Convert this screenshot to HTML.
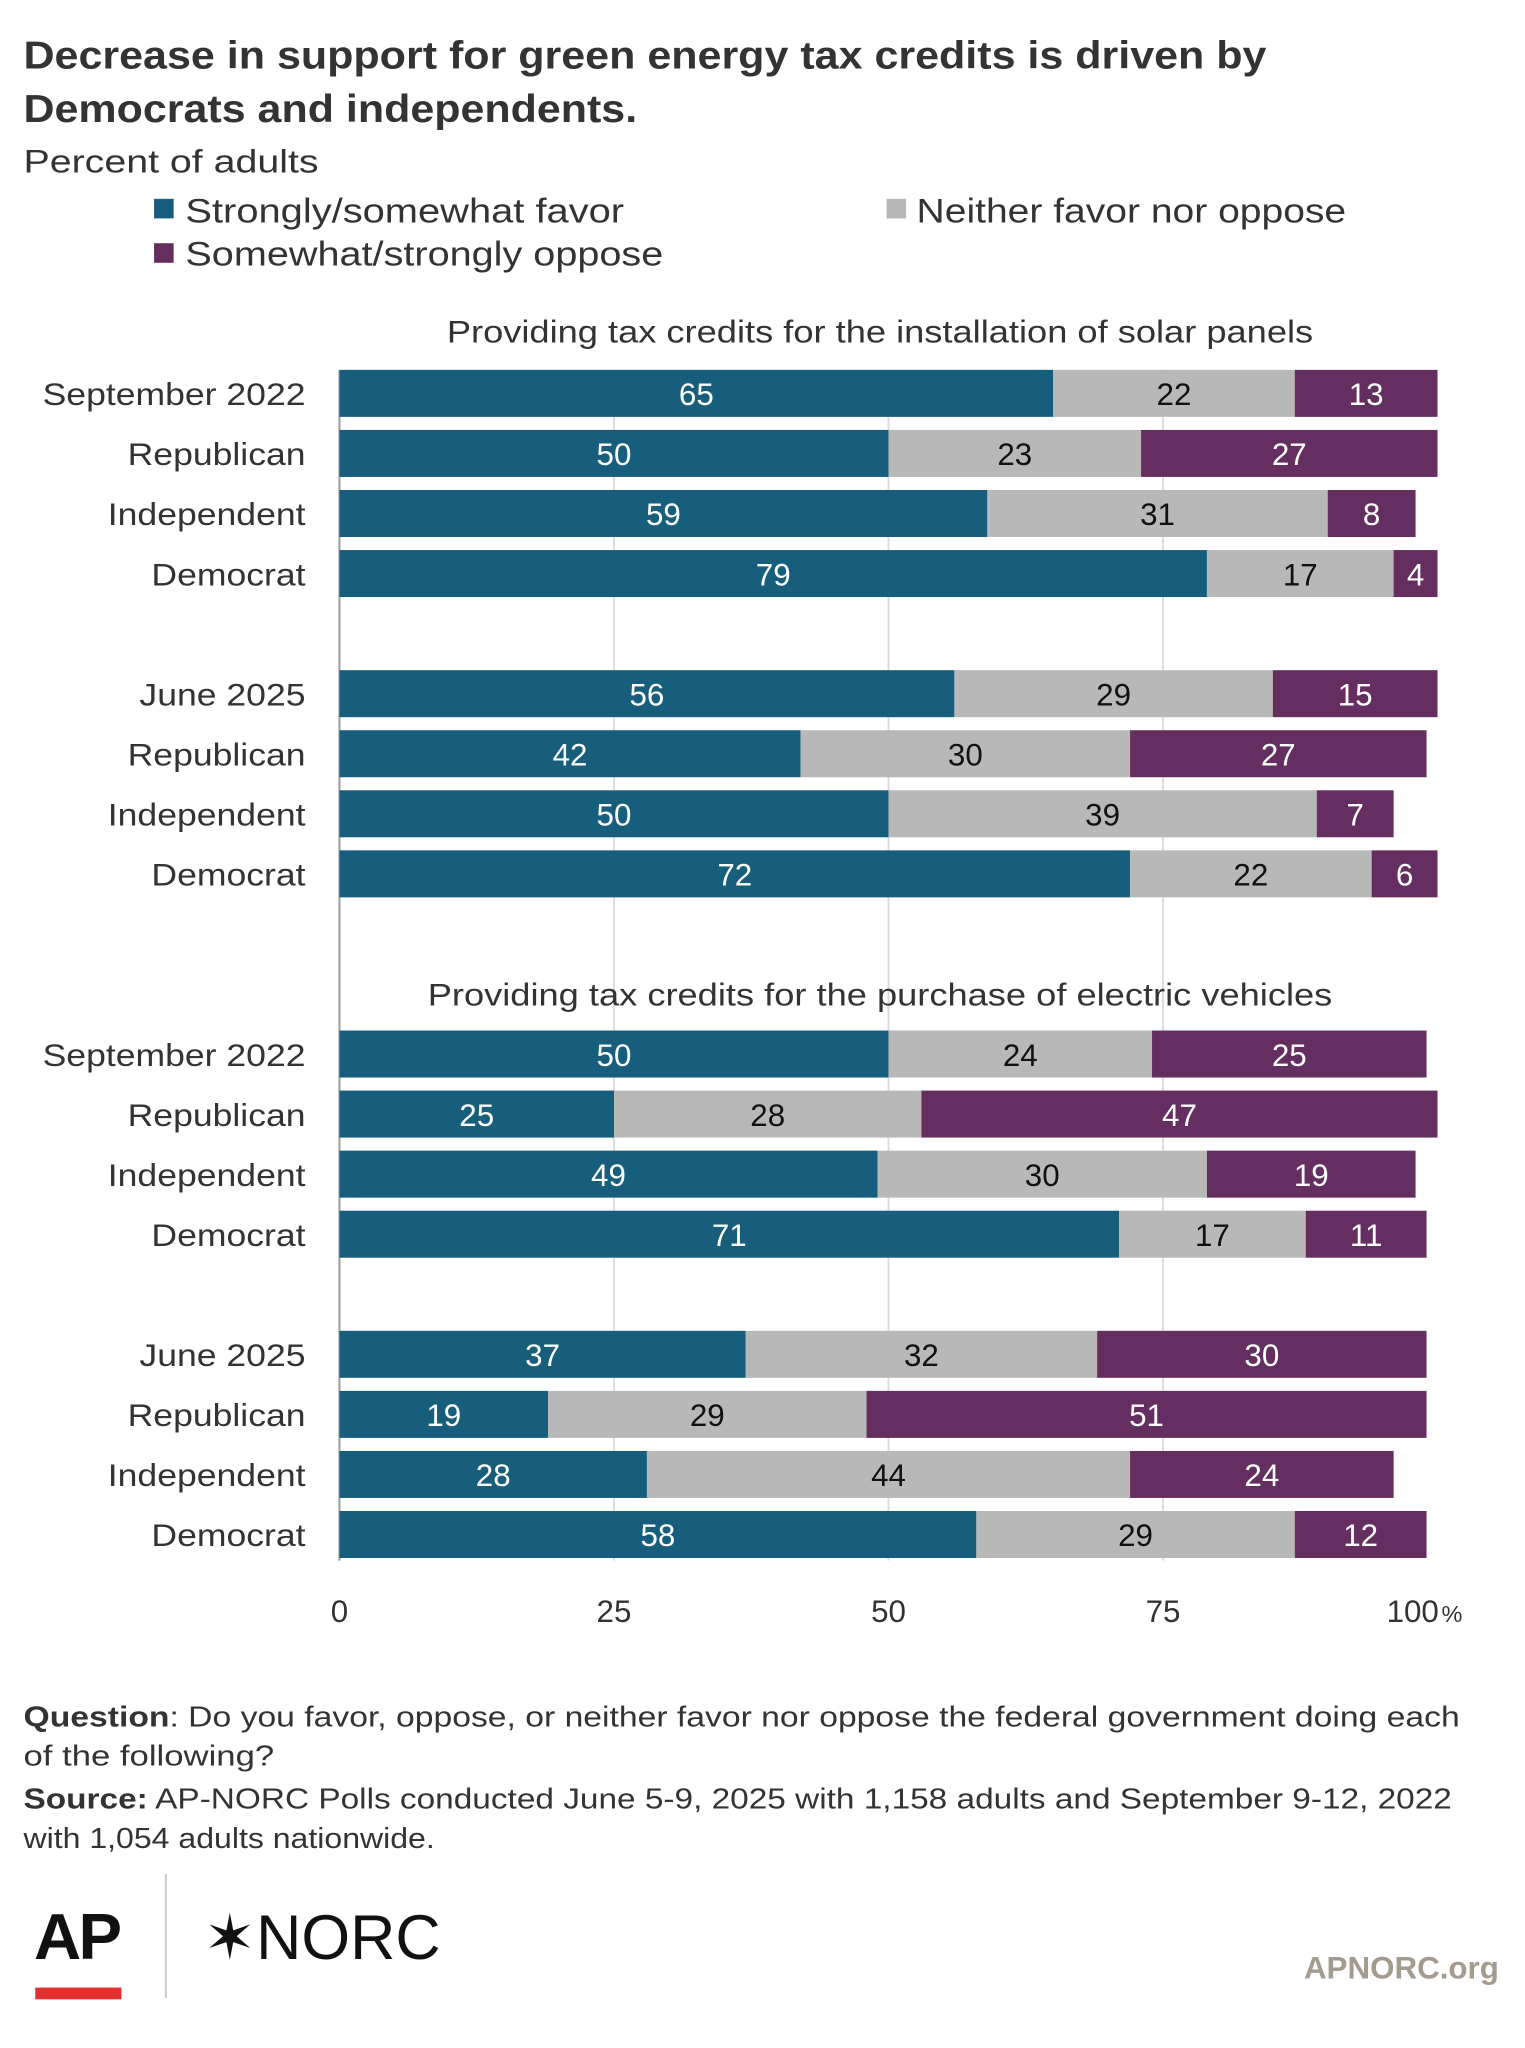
<!DOCTYPE html>
<html><head><meta charset="utf-8"><style>
html,body{margin:0;padding:0;background:#fff;}
svg{display:block;font-family:"Liberation Sans",Arial,sans-serif;}
</style></head><body>
<svg id="chart" width="1525" height="2048" viewBox="0 0 1168 1568" xmlns="http://www.w3.org/2000/svg">
<text x="18" y="52" font-size="30" font-weight="bold" fill="#333" textLength="952" lengthAdjust="spacingAndGlyphs">Decrease in support for green energy tax credits is driven by</text>
<text x="18" y="93" font-size="30" font-weight="bold" fill="#333" textLength="470" lengthAdjust="spacingAndGlyphs">Democrats and independents.</text>
<text x="18" y="132" font-size="25" fill="#333" textLength="226" lengthAdjust="spacingAndGlyphs">Percent of adults</text>
<g font-size="26" fill="#333">
<rect x="118" y="152" width="15" height="15" fill="#175e7d"/>
<text x="142" y="170" textLength="336" lengthAdjust="spacingAndGlyphs">Strongly/somewhat favor</text>
<rect x="679" y="152" width="15" height="15" fill="#b8b8b8"/>
<text x="702" y="170" textLength="329" lengthAdjust="spacingAndGlyphs">Neither favor nor oppose</text>
<rect x="118" y="186" width="15" height="15" fill="#642e60"/>
<text x="142" y="203" textLength="366" lengthAdjust="spacingAndGlyphs">Somewhat/strongly oppose</text>
</g>
<g id="grid"></g>
<g id="bars"></g>
<g id="axis"></g>
<g font-size="22" fill="#333">
<text x="18" y="1322" textLength="1100" lengthAdjust="spacingAndGlyphs"><tspan font-weight="bold">Question</tspan>: Do you favor, oppose, or neither favor nor oppose the federal government doing each</text>
<text x="18" y="1352" textLength="192" lengthAdjust="spacingAndGlyphs">of the following?</text>
<text x="18" y="1385" textLength="1094" lengthAdjust="spacingAndGlyphs"><tspan font-weight="bold">Source:</tspan> AP-NORC Polls conducted June 5-9, 2025 with 1,158 adults and September 9-12, 2022</text>
<text x="18" y="1415" textLength="315" lengthAdjust="spacingAndGlyphs">with 1,054 adults nationwide.</text>
</g>
<g>
<text x="26" y="1500" font-size="50" font-weight="bold" fill="#111" letter-spacing="-2">AP</text>
<rect x="27" y="1522" width="66" height="9" fill="#e4312f"/>
</g>
<line x1="127" y1="1435" x2="127" y2="1530" stroke="#ccc" stroke-width="1.5"/>
<text x="156" y="1500" font-size="48" fill="#111">✶NORC</text>
<text x="1148" y="1515" font-size="24" fill="#a49b8f" text-anchor="end" font-weight="bold">APNORC.org</text>
</svg>
<script>
const rowLabels = ["September 2022","Republican","Independent","Democrat","June 2025","Republican","Independent","Democrat","September 2022","Republican","Independent","Democrat","June 2025","Republican","Independent","Democrat"];
const favor =   [65,50,59,79,56,42,50,72,50,25,49,71,37,19,28,58];
const neither = [22,23,31,17,29,30,39,22,24,28,30,17,32,29,44,29];
const oppose =  [13,27,8,4,15,27,7,6,25,47,19,11,30,51,24,12];
const sectionTitles = ["Providing tax credits for the installation of solar panels","Providing tax credits for the purchase of electric vehicles"];
const ticks = [0,25,50,75,100];
const NS="http://www.w3.org/2000/svg";
const x0=260,x1=1101;
const xs=v=>x0+(x1-x0)*v/100;
const rowY=[301,347,393,439,531,577,623,669,807,853,899,945,1037,1083,1129,1175];
const svg=document.getElementById('chart');
function mk(tag,attrs,parent,txt){const e=document.createElementNS(NS,tag);for(const k in attrs)e.setAttribute(k,attrs[k]);if(txt!==undefined)e.textContent=txt;parent.appendChild(e);return e;}
function stretch(e,f){const w=e.getComputedTextLength();e.setAttribute('textLength',w*f);e.setAttribute('lengthAdjust','spacingAndGlyphs');}
const grid=document.getElementById('grid'),bars=document.getElementById('bars'),axis=document.getElementById('axis');
ticks.forEach(t=>{
  if(t>0&&t<100){const l=mk('line',{x1:xs(t),x2:xs(t),y1:283,y2:1195,stroke:'#ddd','stroke-width':1.5},grid);
  
  }
  const tx=mk('text',{x:xs(t)-(t===100?10:0),y:1242,'font-size':24,fill:'#333','text-anchor':'middle'},axis,t===100?'100':String(t));
  if(t===100){mk('tspan',{'font-size':18,dx:2},tx,'%');}
  
  
});
mk('line',{x1:x0,x2:x0,y1:283,y2:1195,stroke:'#999','stroke-width':1.5},grid);
const stY=[262,770];
sectionTitles.forEach((s,i)=>{const t=mk('text',{x:674,y:stY[i],'font-size':24,fill:'#333','text-anchor':'middle'},bars,s);


stretch(t,1.157);});
const cols=['#175e7d','#b8b8b8','#642e60'],tcol=['#fff','#111','#fff'],names=['favor','neither','oppose'];
rowLabels.forEach((lab,i)=>{
  const cy=rowY[i];
  const lt=mk('text',{x:234,y:cy+9,'font-size':24,fill:'#333','text-anchor':'end'},bars,lab);
  
  
  stretch(lt,1.135);
  const vals=[favor[i],neither[i],oppose[i]];let acc=0;
  vals.forEach((v,j)=>{
    const r=mk('rect',{x:xs(acc),y:cy-18,width:xs(acc+v)-xs(acc),height:36,fill:cols[j]},bars);
    
    
    const t=mk('text',{x:(xs(acc)+xs(acc+v))/2,y:cy+9,'font-size':24,fill:tcol[j],'text-anchor':'middle'},bars,String(v));
    
    
    acc+=v;
  });
});
</script>
</body></html>
